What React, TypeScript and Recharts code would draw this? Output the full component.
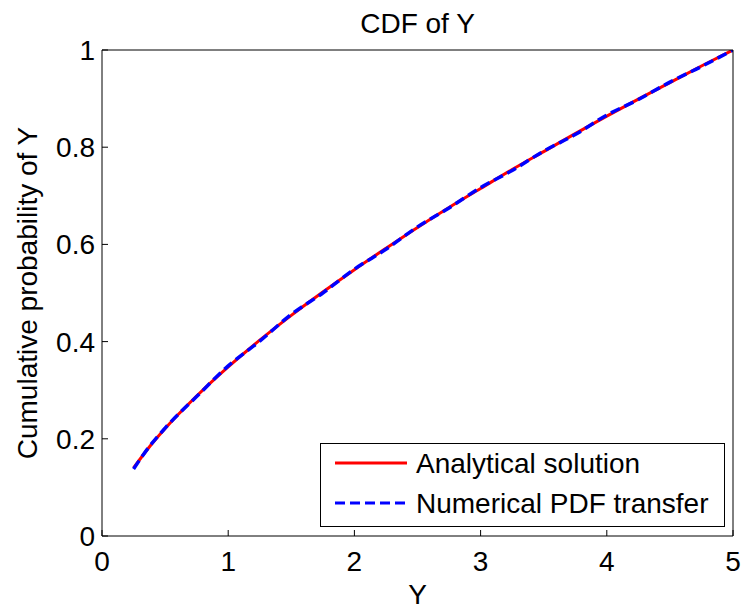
import React from "react";
import { LineChart, Line, XAxis, YAxis, Legend } from "recharts";

// sample points along Y
const yPoints = [
  0.25, 0.375, 0.5, 0.75, 1.0, 1.25, 1.5, 1.75, 2.0, 2.25, 2.5, 2.75, 3.0,
  3.25, 3.5, 3.75, 4.0, 4.25, 4.5, 4.75, 5.0,
];

// cumulative probability
const analytical = [
  0.14, 0.183, 0.221, 0.288, 0.348, 0.403, 0.454, 0.502, 0.548, 0.592, 0.635,
  0.676, 0.715, 0.754, 0.791, 0.828, 0.864, 0.899, 0.933, 0.967, 1.0,
];
const numerical = [
  0.138, 0.184, 0.222, 0.287, 0.35, 0.401, 0.456, 0.5, 0.549, 0.59, 0.636,
  0.675, 0.717, 0.752, 0.792, 0.826, 0.866, 0.898, 0.934, 0.966, 1.0,
];

const xTicks = [0, 1, 2, 3, 4, 5];
const yTicks = [0, 0.2, 0.4, 0.6, 0.8, 1];

const seriesNames = ["Analytical solution", "Numerical PDF transfer"];

const data = yPoints.map((y, i) => ({
  y,
  analytical: analytical[i],
  numerical: numerical[i],
}));

const FONT = "'Liberation Sans', Arial, Helvetica, sans-serif";
const FS = 28;

const BottomTick = (props: any) => {
  const { x, y, payload } = props;
  return (
    <g>
      <line x1={x} y1={y} x2={x} y2={y - 6} stroke="#000" strokeWidth={1} />
      <text x={x} y={y + 35} textAnchor="middle" fontSize={FS} fontFamily={FONT} fill="#000">
        {payload.value}
      </text>
    </g>
  );
};

const LeftTick = (props: any) => {
  const { x, y, payload } = props;
  return (
    <g>
      <line x1={x} y1={y} x2={x + 6} y2={y} stroke="#000" strokeWidth={1} />
      <text x={x - 7} y={y + 10} textAnchor="end" fontSize={FS} fontFamily={FONT} fill="#000">
        {payload.value}
      </text>
    </g>
  );
};

const TitleLabel = (props: any) => {
  const vb = props.viewBox || {};
  return (
    <text x={vb.x + vb.width / 2} y={33} textAnchor="middle" fontSize={FS} fontFamily={FONT} fill="#000">
      CDF of Y
    </text>
  );
};

const YLabel = (props: any) => {
  const vb = props.viewBox || {};
  const cx = 27;
  const cy = vb.y + vb.height / 2;
  return (
    <text
      x={cx}
      y={cy}
      transform={`rotate(-90 ${cx} ${cy})`}
      textAnchor="middle"
      dominantBaseline="central"
      fontSize={FS}
      fontFamily={FONT}
      fill="#000"
    >
      Cumulative probability of Y
    </text>
  );
};

const LegendBox = () => (
  <svg width={406} height={85} style={{ display: "block" }}>
    <rect x={0.5} y={0.5} width={404} height={83} fill="#fff" stroke="#000" strokeWidth={1} />
    <line x1={15} y1={20} x2={87} y2={20} stroke="#ff0000" strokeWidth={3} />
    <text x={96} y={30} fontSize={FS} fontFamily={FONT} fill="#000">
      {seriesNames[0]}
    </text>
    <line x1={15} y1={60} x2={87} y2={60} stroke="#0000ff" strokeWidth={3} strokeDasharray="10 5" />
    <text x={96} y={70} fontSize={FS} fontFamily={FONT} fill="#000">
      {seriesNames[1]}
    </text>
  </svg>
);

export default function App() {
  return (
    <div style={{ position: "absolute", left: 0, top: 0, background: "#fff" }}>
      <LineChart
        width={744}
        height={609}
        data={data}
        margin={{ top: 50, right: 11, bottom: 0, left: 0 }}
      >
        <XAxis
          dataKey="y"
          type="number"
          domain={[0, 5]}
          ticks={xTicks}
          height={73}
          stroke="#000"
          tickLine={false}
          tickSize={0}
          tickMargin={0}
          tick={<BottomTick />}
          label={{ value: "Y", position: "insideBottom", offset: 5, fontSize: FS, fontFamily: FONT, fill: "#000" }}
          allowDataOverflow
        />
        <XAxis
          xAxisId="top"
          orientation="top"
          dataKey="y"
          type="number"
          domain={[0, 5]}
          ticks={xTicks}
          height={1}
          stroke="#000"
          mirror
          tickSize={6}
          tick={false}
          label={<TitleLabel />}
          allowDataOverflow
        />
        <YAxis
          type="number"
          domain={[0, 1]}
          ticks={yTicks}
          width={102}
          stroke="#000"
          tickLine={false}
          tickSize={0}
          tickMargin={0}
          tick={<LeftTick />}
          label={<YLabel />}
          allowDataOverflow
        />
        <YAxis
          yAxisId="right"
          orientation="right"
          type="number"
          domain={[0, 1]}
          ticks={yTicks}
          width={1}
          stroke="#000"
          mirror
          tickSize={6}
          tick={false}
          allowDataOverflow
        />
        <Legend
          layout="vertical"
          align="center"
          verticalAlign="middle"
          content={<LegendBox />}
          wrapperStyle={{ left: 320, top: 443, width: 406, height: 85 }}
        />
        <Line
          xAxisId="top"
          yAxisId="right"
          type="monotone"
          dataKey="analytical"
          name={seriesNames[0]}
          stroke="#ff0000"
          strokeWidth={3}
          dot={false}
          activeDot={false}
          isAnimationActive={false}
        />
        <Line
          type="monotone"
          dataKey="numerical"
          name={seriesNames[1]}
          stroke="#0000ff"
          strokeWidth={3.5}
          strokeDasharray="10 5"
          dot={false}
          activeDot={false}
          isAnimationActive={false}
        />
      </LineChart>
    </div>
  );
}
